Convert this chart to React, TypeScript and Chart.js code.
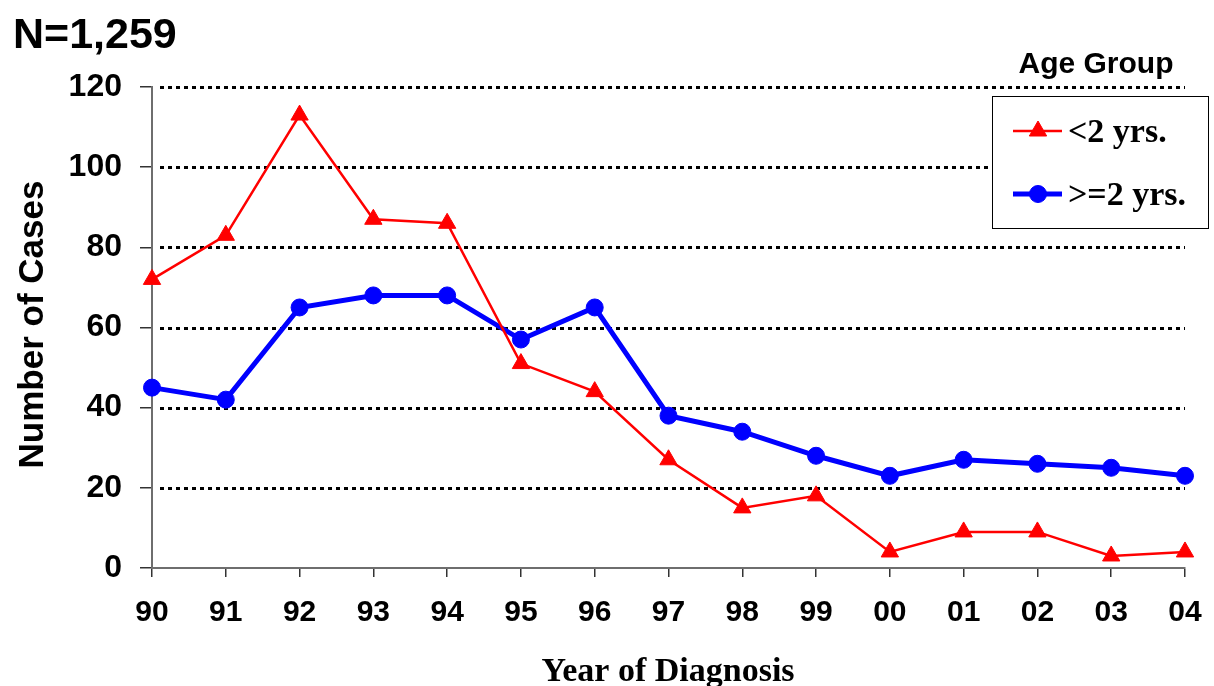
import React, { useEffect, useRef } from "react";
import { Chart, registerables } from "chart.js";

Chart.register(...registerables);

// Year of diagnosis (two-digit labels)
const years = ["90", "91", "92", "93", "94", "95", "96", "97", "98", "99", "00", "01", "02", "03", "04"];
// Cases diagnosed under 2 years of age
const under2 = [72, 83, 113, 87, 86, 51, 44, 27, 15, 18, 4, 9, 9, 3, 4];
// Cases diagnosed at 2 years of age or older
const over2 = [45, 42, 65, 68, 68, 57, 65, 38, 34, 28, 23, 27, 26, 25, 23];
// Value-axis ticks
const yTicks = [0, 20, 40, 60, 80, 100, 120];
const seriesNames = ["<2 yrs.", ">=2 yrs."];
const totalLabel = "N=1,259";

const SANS = 'Arial, "Liberation Sans", Helvetica, sans-serif';
const SERIF = '"Times New Roman", "Liberation Serif", Times, serif';

// Marker shapes for the legend swatches, matching Chart.js point styles
function drawMarker(ctx: CanvasRenderingContext2D, style: string, r: number, x: number, y: number) {
  ctx.beginPath();
  if (style === "triangle") {
    let rad = 0;
    ctx.moveTo(x + Math.sin(rad) * r, y - Math.cos(rad) * r);
    rad += (2 * Math.PI) / 3;
    ctx.lineTo(x + Math.sin(rad) * r, y - Math.cos(rad) * r);
    rad += (2 * Math.PI) / 3;
    ctx.lineTo(x + Math.sin(rad) * r, y - Math.cos(rad) * r);
    ctx.closePath();
  } else {
    ctx.arc(x, y, r, 0, Math.PI * 2);
  }
  ctx.fill();
  ctx.stroke();
}

// Dotted horizontal gridlines (no line at zero)
const dottedGrid = {
  id: "dottedGrid",
  beforeDatasetsDraw(chart: any) {
    const { ctx, chartArea, scales } = chart;
    const y = scales.y;
    ctx.save();
    ctx.strokeStyle = "#000";
    ctx.lineWidth = 3;
    ctx.setLineDash([4, 4]);
    yTicks.forEach((v) => {
      if (v === 0) return;
      const py = Math.round(y.getPixelForValue(v)) + 0.5;
      ctx.beginPath();
      ctx.moveTo(chartArea.left + 8, py);
      ctx.lineTo(chartArea.right, py);
      ctx.stroke();
    });
    ctx.restore();
  },
};

// Titles, axis titles and the boxed legend
const decorations = {
  id: "decorations",
  afterDraw(chart: any) {
    const { ctx, chartArea } = chart;
    ctx.save();
    ctx.fillStyle = "#000";

    // Total count
    ctx.font = `bold 43px ${SANS}`;
    ctx.textAlign = "left";
    ctx.textBaseline = "alphabetic";
    ctx.fillText(totalLabel, 13, 48);

    // Y axis title
    ctx.save();
    ctx.translate(43, (chartArea.top + chartArea.bottom) / 2 - 3);
    ctx.rotate(-Math.PI / 2);
    ctx.font = `bold 35px ${SANS}`;
    ctx.textAlign = "center";
    ctx.fillText("Number of Cases", 0, 0);
    ctx.restore();

    // X axis title
    ctx.font = `bold 34px ${SERIF}`;
    ctx.textAlign = "center";
    ctx.fillText("Year of Diagnosis", 668, 681);

    // Legend heading
    ctx.font = `bold 30px ${SANS}`;
    ctx.fillText("Age Group", 1096, 73);

    // Legend box
    const bx = 992.5, by = 96.5, bw = 216, bh = 132;
    ctx.fillStyle = "#fff";
    ctx.fillRect(bx, by, bw, bh);
    ctx.strokeStyle = "#000";
    ctx.lineWidth = 1;
    ctx.strokeRect(bx, by, bw, bh);

    const rows = [131, 194];
    chart.data.datasets.forEach((ds: any, i: number) => {
      const ly = rows[i];
      ctx.strokeStyle = ds.borderColor;
      ctx.lineWidth = ds.borderWidth;
      ctx.beginPath();
      ctx.moveTo(1013, ly);
      ctx.lineTo(1062, ly);
      ctx.stroke();
      ctx.fillStyle = ds.pointBackgroundColor;
      ctx.strokeStyle = ds.pointBorderColor;
      ctx.lineWidth = 1;
      drawMarker(ctx, ds.pointStyle, ds.pointRadius, 1038, ly);
      ctx.fillStyle = "#000";
      ctx.font = `bold 34px ${SERIF}`;
      ctx.textAlign = "left";
      ctx.textBaseline = "alphabetic";
      ctx.fillText(ds.label, 1068, ly + 11);
    });

    ctx.restore();
  },
};

export default function App() {
  const canvasRef = useRef<HTMLCanvasElement | null>(null);

  useEffect(() => {
    if (!canvasRef.current) return;
    const chart = new Chart(canvasRef.current, {
      type: "line",
      data: {
        labels: years,
        datasets: [
          {
            label: seriesNames[0],
            data: under2,
            borderColor: "#ff0000",
            borderWidth: 2.5,
            pointStyle: "triangle",
            pointRadius: 10,
            pointBackgroundColor: "#ff0000",
            pointBorderColor: "#ff0000",
            pointBorderWidth: 1,
            tension: 0,
            order: 1,
          },
          {
            label: seriesNames[1],
            data: over2,
            borderColor: "#0000ff",
            borderWidth: 5,
            pointStyle: "circle",
            pointRadius: 8.5,
            pointBackgroundColor: "#0000ff",
            pointBorderColor: "#0000ff",
            pointBorderWidth: 1,
            tension: 0,
            order: 2,
          },
        ],
      },
      options: {
        animation: false,
        responsive: false,
        maintainAspectRatio: false,
        layout: { padding: { left: 0, right: 29, top: 87, bottom: 0 } },
        plugins: {
          legend: { display: false },
          title: { display: false },
          tooltip: { enabled: false },
        },
        scales: {
          x: {
            type: "category",
            offset: false,
            grid: {
              display: true,
              drawOnChartArea: false,
              drawTicks: true,
              tickLength: 9,
              color: "#333",
              lineWidth: 1.5,
            },
            border: { display: true, color: "#6e6e6e", width: 2 },
            ticks: {
              color: "#000",
              font: { family: SANS, size: 30, weight: "bold" },
              padding: 18,
              maxRotation: 0,
              autoSkip: false,
            },
            afterFit: (s: any) => {
              s.height = 118;
              s.paddingLeft = 0;
              s.paddingRight = 0;
            },
          },
          y: {
            min: 0,
            max: 120,
            grid: {
              display: true,
              drawOnChartArea: false,
              drawTicks: true,
              tickLength: 12,
              color: "#333",
              lineWidth: 1.5,
            },
            border: { display: true, color: "#6e6e6e", width: 2 },
            ticks: {
              stepSize: 20,
              color: "#000",
              font: { family: SANS, size: 32, weight: "bold" },
              padding: 18,
            },
            afterFit: (s: any) => {
              s.width = 152;
              s.paddingTop = 0;
              s.paddingBottom = 0;
            },
          },
        },
      },
      plugins: [dottedGrid, decorations],
    } as any);
    return () => chart.destroy();
  }, []);

  return (
    <div style={{ position: "absolute", left: 0, top: 0, width: 1214, height: 686, background: "#fff" }}>
      <canvas ref={canvasRef} width={1214} height={686} style={{ display: "block" }} />
    </div>
  );
}
